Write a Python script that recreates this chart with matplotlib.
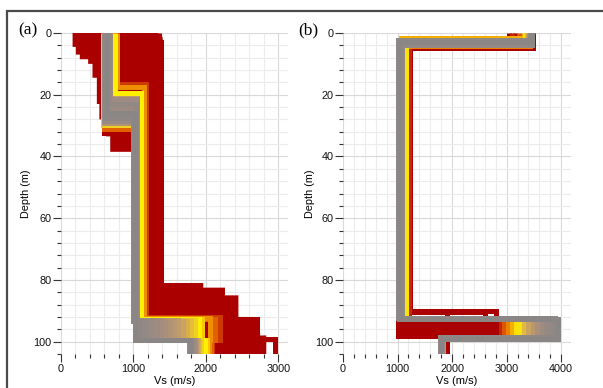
import matplotlib
matplotlib.use('Agg')
import matplotlib.pyplot as plt
from matplotlib.colors import LinearSegmentedColormap
from matplotlib.patches import Rectangle
from matplotlib.ticker import MultipleLocator

plt.rcParams['font.family'] = ['Liberation Sans', 'DejaVu Sans']

#%%
# Data: layered Vs profiles (4 layers), coloured by misfit (0 = best)

# panel (a)
a_misfit = [0.00, 0.02, 0.04, 0.06, 0.08, 0.10, 0.12, 0.14, 0.16, 0.18, 0.20,
            0.23, 0.26, 0.29, 0.32, 0.36, 0.42, 0.50, 0.58, 0.66, 0.80, 1.00]
a_vs1 = [630, 610, 660, 600, 645, 675, 620, 655, 590, 640, 670,
         615, 650, 605, 580, 740, 700, 780, 590, 760, 600, 1350]
a_h1 = [26.0, 27.5, 23.0, 28.5, 24.5, 21.5, 26.5, 22.5, 29.0, 25.0, 21.0,
        27.0, 23.5, 28.0, 29.8, 19.5, 20.5, 17.5, 31.0, 16.5, 32.5, 3.0]
a_vs2 = [1020, 1000, 1040, 990, 1030, 1050, 1010, 1035, 1000, 1025, 1045,
         1015, 1030, 1005, 1000, 1100, 1070, 1150, 990, 1180, 1000, 1380]
a_h2 = [93.0, 93.2, 93.0, 93.4, 93.1, 93.3, 93.0, 93.2, 93.4, 93.1, 93.0,
        93.3, 93.2, 93.0, 93.1, 92.6, 92.8, 92.2, 92.5, 92.0, 92.4, 92.5]
a_vs3 = [1020, 1080, 1140, 1200, 1260, 1320, 1380, 1440, 1500, 1560, 1620,
         1680, 1740, 1800, 1850, 1900, 1950, 2060, 2130, 2190, 1990, 2700]
a_h3 = [99.5, 99.6, 99.4, 99.5, 99.6, 99.4, 99.5, 99.6, 99.5, 99.4, 99.5,
        99.6, 99.5, 99.4, 99.5, 99.5, 99.6, 99.5, 99.4, 99.6, 99.5, 99.2]
a_vs4 = [1780, 1790, 1800, 1770, 1810, 1830, 1820, 1850, 1840, 1860, 1870,
         1880, 1890, 1910, 1940, 1990, 2010, 2040, 2070, 2090, 2110, 2950]

# envelope of the worst models (a)
a_env_z = [0, 4.5, 4.5, 7, 7, 8.5, 8.5, 10, 10, 14.5, 14.5, 23, 23, 28, 28,
           30.5, 30.5, 32, 32, 33.5, 33.5, 38.5, 38.5, 92, 92, 99.5, 99.5, 104,
           104, 98, 98, 97, 97, 92, 92, 85, 85, 82.5, 82.5, 81, 81, 1.5, 0.5, 0]
a_env_v = [160, 160, 205, 205, 260, 260, 375, 375, 435, 435, 495, 495, 530, 530, 560,
           560, 585, 585, 620, 620, 680, 680, 1100, 1100, 1960, 1960, 2080, 2080,
           2835, 2835, 2750, 2750, 2680, 2680, 2450, 2450, 2265, 2265, 1965, 1965,
           1404, 1404, 1380, 1330]

# panel (b)
b_misfit = [0.00, 0.02, 0.04, 0.07, 0.10, 0.14, 0.18, 0.23, 0.28, 0.34, 0.38,
            0.45, 0.52, 0.60, 0.70, 0.85, 0.90, 0.95]
b_vs1 = [3450, 3430, 3460, 3420, 3440, 3410, 3450, 3400, 3380, 3330, 3360,
         3320, 3420, 3230, 3100, 3480, 3150, 3050]
b_h1 = [3.0, 2.4, 4.0, 2.6, 3.5, 2.3, 3.8, 2.5, 3.2, 2.8, 2.6,
        1.6, 4.3, 2.4, 2.5, 4.9, 2.0, 3.0]
b_vs2 = [1040, 1010, 1080, 1060, 1020, 1090, 1050, 1070, 1030, 1130, 1150,
         1060, 1120, 1120, 1210, 1230, 1200, 1220]
b_h2 = [92.6, 92.4, 92.8, 92.5, 92.7, 92.6, 92.4, 92.8, 92.5, 92.6, 92.7,
        92.5, 92.6, 92.8, 92.4, 90.2, 90.4, 90.3]
b_vs3 = [3950, 3880, 3800, 3720, 3640, 3560, 3480, 3400, 3320, 3240, 3170,
         3100, 3030, 2960, 2890, 2800, 2600, 1900]
b_h3 = [99.3, 98.6, 99.0, 98.8, 99.1, 98.9, 99.2, 98.7, 99.0, 99.1, 98.8,
        99.0, 99.2, 98.9, 99.0, 99.1, 99.0, 99.2]
b_vs4 = [1800, 1780, 1820, 1800, 1810, 1790, 1830, 1800, 1810, 1820, 1800,
         1810, 1820, 1830, 1820, 1910, 1880, 1910]

b_env_z = [93.3, 93.3, 99.3, 99.3]
b_env_v = [970, 2830, 2830, 970]

#%%
# misfit palette, best (grey) -> worst (dark red)
misfit_cmap = LinearSegmentedColormap.from_list('misfit', [
    (0.00, '#8a8686'), (0.12, '#a48c80'), (0.22, '#c6a064'), (0.30, '#eac232'),
    (0.36, '#fff000'), (0.45, '#f6b000'), (0.55, '#e87000'), (0.68, '#c83000'),
    (0.80, '#aa0000'), (1.00, '#aa0000')])
worst = '#aa0000'


def step_profile(vs, hs, zmax=110):
    v, z = [vs[0]], [0]
    for i, h in enumerate(hs):
        v += [vs[i], vs[i + 1]]
        z += [h, h]
    v.append(vs[-1])
    z.append(zmax)
    return v, z


def draw_models(ax, misfit, vs1, h1, vs2, h2, vs3, h3, vs4):
    order = sorted(range(len(misfit)), key=lambda i: -misfit[i])
    for i in order:
        v, z = step_profile([vs1[i], vs2[i], vs3[i], vs4[i]], [h1[i], h2[i], h3[i]])
        ax.plot(v, z, color=misfit_cmap(misfit[i]), lw=3.6,
                solid_joinstyle='miter', solid_capstyle='butt')


def style_axes(ax, xmax):
    ax.set_xlim(0, xmax)
    ax.set_ylim(104, 0)
    ax.xaxis.set_major_locator(MultipleLocator(1000))
    ax.xaxis.set_minor_locator(MultipleLocator(200))
    ax.yaxis.set_major_locator(MultipleLocator(20))
    ax.yaxis.set_minor_locator(MultipleLocator(4))
    ax.grid(which='major', color='#d9d9d9', lw=0.8)
    ax.grid(which='minor', color='#ececec', lw=0.8)
    ax.set_axisbelow(True)
    for s in ax.spines.values():
        s.set_visible(False)
    ax.tick_params(which='major', length=5.5, width=0.8, color='#333333',
                   labelsize=7.8, pad=1.5, labelcolor='#111111')
    ax.tick_params(which='minor', length=3, width=0.8, color='#333333')


fig = plt.figure(figsize=(6.03, 3.88), dpi=100)
W, H = 603.0, 388.0

ax_a = fig.add_axes([61 / W, 1 - 354 / H, 227 / W, 321 / H])
ax_b = fig.add_axes([343 / W, 1 - 354 / H, 228 / W, 321 / H])

ax_a.fill(a_env_v, a_env_z, color=worst, lw=0)
draw_models(ax_a, a_misfit, a_vs1, a_h1, a_vs2, a_h2, a_vs3, a_h3, a_vs4)
style_axes(ax_a, 3135)

ax_b.fill(b_env_v, b_env_z, color=worst, lw=0)
draw_models(ax_b, b_misfit, b_vs1, b_h1, b_vs2, b_h2, b_vs3, b_h3, b_vs4)
style_axes(ax_b, 4180)

for ax, xl in [(ax_a, -0.156), (ax_b, -0.143)]:
    ax.text(xl, 0.5, 'Depth (m)', rotation=90, ha='center', va='center',
            transform=ax.transAxes, fontsize=7.8)
    ax.text(0.5, -0.101, 'Vs (m/s)', ha='center', va='bottom',
            transform=ax.transAxes, fontsize=8)

fig.text(28 / W, 1 - 30.5 / H, '(a)', ha='center', va='center',
         family='Liberation Serif', fontsize=12.5)
fig.text(308 / W, 1 - 30.5 / H, '(b)', ha='center', va='center',
         family='Liberation Serif', fontsize=12.5)

# outer frame (runs off the right and bottom edges)
fig.patches.append(Rectangle((7 / W, -0.2), 1.2, 1 - 10.5 / H + 0.2,
                             transform=fig.transFigure, fill=False,
                             lw=1.6, ec='#4a4a4a'))

fig.savefig('out.png', dpi=100)
